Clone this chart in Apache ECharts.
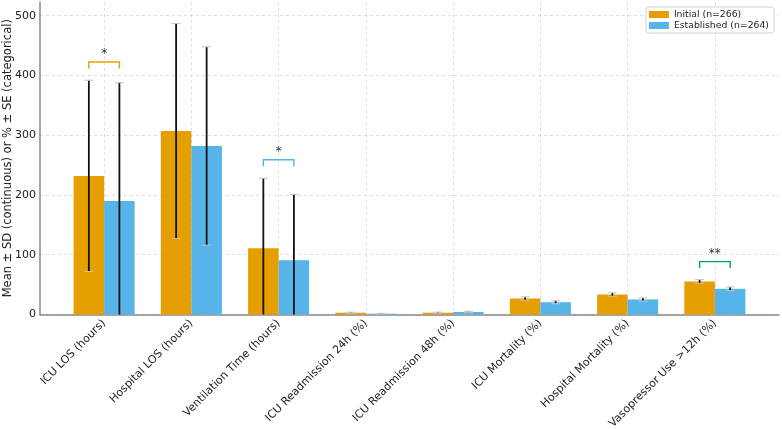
<!DOCTYPE html>
<html>
<head>
<meta charset="utf-8">
<script src="https://cdn.jsdelivr.net/npm/echarts@6/dist/echarts.min.js"></script>
<style>
  html, body { margin: 0; padding: 0; background: #fff; }
  #chart { width: 782px; height: 429px; }
</style>
</head>
<body>
<div id="chart"></div>
<script>
const categories = [
  "ICU LOS (hours)",
  "Hospital LOS (hours)",
  "Ventilation Time (hours)",
  "ICU Readmission 24h (%)",
  "ICU Readmission 48h (%)",
  "ICU Mortality (%)",
  "Hospital Mortality (%)",
  "Vasopressor Use >12h (%)",
];
const initialMean = [232, 307, 111, 3.0, 3.0, 26.8, 33.5, 55.4];
const initialErr = [160, 180, 117, 0.9, 1.0, 2.7, 2.9, 3.0];
const establishedMean = [190, 282, 91, 1.3, 4.2, 20.6, 25.2, 43.0];
const establishedErr = [198, 166, 110, 0.7, 1.2, 2.5, 2.7, 3.0];

// significance brackets: category, bracket height, label, colour
const sigCategory = [0, 2, 7];
const sigHeight = [422.5, 259, 88.5];
const sigLabel = ["*", "*", "**"];
const sigColor = ["#E69F00", "#56B4E9", "#009E73"];

const yTicks = [0, 100, 200, 300, 400, 500];

const ORANGE = "#E69F00";
const BLUE = "#56B4E9";
const BAR_W = 0.35;

function barSeries(name, color, means, errs, offset) {
  return {
    name,
    type: "custom",
    itemStyle: { color },
    data: means.map((m, i) => [i, m, errs[i]]),
    renderItem: (params, api) => {
      const c = api.value(0) + offset;
      const m = api.value(1);
      const e = api.value(2);
      const p0 = api.coord([c - BAR_W / 2, m]);
      const p1 = api.coord([c + BAR_W / 2, 0]);
      const top = api.coord([c, m + e]);
      const bot = api.coord([c, Math.max(m - e, 0)]);
      const capHalf = 4.5;
      const children = [
        {
          type: "rect",
          shape: { x: p0[0], y: p0[1], width: p1[0] - p0[0], height: p1[1] - p0[1] },
          style: { fill: color },
        },
        {
          type: "line",
          shape: { x1: top[0], y1: top[1], x2: bot[0], y2: bot[1] },
          style: { stroke: "#111", lineWidth: 1.8 },
        },
        {
          type: "line",
          shape: { x1: top[0] - capHalf, y1: top[1], x2: top[0] + capHalf, y2: top[1] },
          style: { stroke: "#c4c4c4", lineWidth: 1 },
        },
      ];
      if (m - e > 0) {
        children.push({
          type: "line",
          shape: { x1: bot[0] - capHalf, y1: bot[1], x2: bot[0] + capHalf, y2: bot[1] },
          style: { stroke: "#c4c4c4", lineWidth: 1 },
        });
      }
      return { type: "group", children };
    },
  };
}

const chart = echarts.init(document.getElementById("chart"));

chart.setOption({
  animation: false,
  textStyle: { fontFamily: "DejaVu Sans" },
  legend: {
    right: 8,
    top: 7,
    orient: "vertical",
    itemWidth: 20,
    itemHeight: 7,
    itemGap: 2,
    padding: [3, 5, 3, 3],
    borderColor: "#d0d0d0",
    borderWidth: 1,
    borderRadius: 3,
    backgroundColor: "#fff",
    icon: "rect",
    textStyle: { fontSize: 9.3, color: "#222", fontFamily: "DejaVu Sans" },
    data: ["Initial (n=266)", "Established (n=264)"],
  },
  grid: { left: 40, right: 3, top: 2, bottom: 114.5, outerBoundsMode: "none", containLabel: false },
  xAxis: {
    type: "value",
    min: -0.735,
    max: 7.735,
    axisLine: { show: true, onZero: false, lineStyle: { color: "#888", width: 1.5 } },
    axisTick: { show: false, customValues: categories.map((c, i) => i) },
    axisLabel: {
      customValues: categories.map((c, i) => i),
      formatter: (v) => categories[Math.round(v)],
      rotate: 45,
      margin: 7,
      fontSize: 11,
      color: "#222",
      fontFamily: "DejaVu Sans",
    },
    splitLine: { show: true, lineStyle: { color: "#d6d6d6", type: [3, 3], width: 0.8 } },
  },
  yAxis: {
    type: "value",
    min: 0,
    max: 523,
    axisLine: { show: true, onZero: false, lineStyle: { color: "#888", width: 1.5 } },
    axisTick: { show: false, customValues: yTicks },
    axisLabel: {
      customValues: yTicks,
      fontSize: 11,
      color: "#222",
      margin: 4,
      fontFamily: "DejaVu Sans",
    },
    splitLine: { show: true, lineStyle: { color: "#d6d6d6", type: [3, 3], width: 0.8 } },
    name: "Mean \u00b1 SD (continuous) or % \u00b1 SE (categorical)",
    nameLocation: "middle",
    nameGap: 26,
    nameMoveOverlap: false,
    nameTextStyle: { fontSize: 11.5, color: "#222", fontFamily: "DejaVu Sans" },
  },
  series: [
    barSeries("Initial (n=266)", ORANGE, initialMean, initialErr, -BAR_W / 2),
    barSeries("Established (n=264)", BLUE, establishedMean, establishedErr, BAR_W / 2),
    {
      type: "custom",
      silent: true,
      data: sigCategory.map((c, i) => [c, sigHeight[i], i]),
      renderItem: (params, api) => {
        const c = api.value(0);
        const h = api.value(1);
        const k = api.value(2);
        const left = api.coord([c - BAR_W / 2, h]);
        const right = api.coord([c + BAR_W / 2, h]);
        const drop = 6.4;
        return {
          type: "group",
          children: [
            {
              type: "polyline",
              shape: {
                points: [
                  [left[0], left[1] + drop],
                  [left[0], left[1]],
                  [right[0], right[1]],
                  [right[0], right[1] + drop],
                ],
              },
              style: { stroke: sigColor[k], lineWidth: 1.4, fill: null },
            },
            {
              type: "text",
              x: (left[0] + right[0]) / 2,
              y: left[1] - 2,
              style: {
                text: sigLabel[k],
                align: "center",
                verticalAlign: "bottom",
                fontSize: 12,
                fill: "#333",
                fontFamily: "DejaVu Sans",
              },
            },
          ],
        };
      },
    },
  ],
});
</script>
</body>
</html>
